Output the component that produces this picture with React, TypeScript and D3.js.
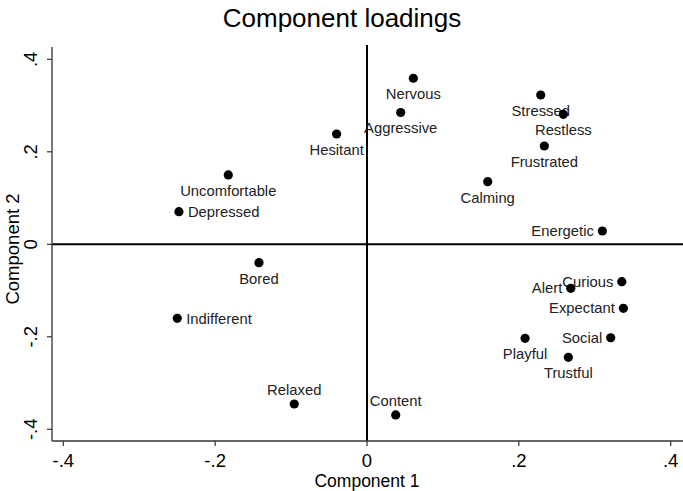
import React from "react";
import * as d3 from "d3";

const labels = ["Nervous","Aggressive","Hesitant","Uncomfortable","Depressed","Bored","Indifferent","Relaxed","Content","Stressed","Restless","Frustrated","Calming","Energetic","Curious","Alert","Expectant","Social","Playful","Trustful"];
const comp1 = [0.061,0.0444,-0.040,-0.1827,-0.2477,-0.1423,-0.2499,-0.0958,0.0378,0.2288,0.2586,0.2336,0.159,0.31,0.3356,0.2684,0.3377,0.321,0.2082,0.2652];
const comp2 = [0.359,0.285,0.2385,0.150,0.0705,-0.0398,-0.160,-0.3453,-0.369,0.3228,0.2811,0.2125,0.1354,0.0288,-0.0809,-0.0951,-0.1384,-0.202,-0.2032,-0.2443];
const labelClock = [6,6,6,6,3,6,3,12,12,6,6,6,6,9,9,9,9,9,6,6];
const xTicks = [-0.4,-0.2,0,0.2,0.4];
const yTicks = [-0.4,-0.2,0,0.2,0.4];

const W = 683, H = 491;
const FONT = "'Liberation Sans', Arial, Helvetica, sans-serif";

const fmt = (v: number) => {
  if (v === 0) return "0";
  const s = String(v);
  return s.replace("0.", ".");
};

export default function App() {
  const x = d3.scaleLinear().domain([-0.4, 0.4]).range([63.3, 670.7]);
  const y = d3.scaleLinear().domain([-0.4, 0.4]).range([429.3, 59.3]);
  const left = 52, bottom = 441, top = 47, right = W;
  const axisColor = "#333";

  return (
    <svg width={W} height={H} style={{ position: "absolute", left: 0, top: 0, background: "#fff" }} fontFamily={FONT}>
      <rect x={0} y={0} width={W} height={H} fill="#fff" />
      <text x={342} y={27} fontSize={26} textAnchor="middle" fill="#000">Component loadings</text>

      {/* zero reference lines */}
      <line x1={left} x2={right} y1={y(0)} y2={y(0)} stroke="#000" strokeWidth={2} />
      <line x1={x(0)} x2={x(0)} y1={top - 2} y2={bottom} stroke="#000" strokeWidth={2} />

      {/* axes */}
      <line x1={left} x2={left} y1={top} y2={bottom} stroke={axisColor} strokeWidth={1.3} />
      <line x1={left} x2={right} y1={bottom} y2={bottom} stroke={axisColor} strokeWidth={1.3} />

      {yTicks.map((t) => (
        <g key={"y" + t}>
          <line x1={left - 5} x2={left} y1={y(t)} y2={y(t)} stroke={axisColor} strokeWidth={1.2} />
          <text transform={`translate(37,${y(t)}) rotate(-90)`} fontSize={18.5} textAnchor="middle" fill="#000">{fmt(t)}</text>
        </g>
      ))}
      {xTicks.map((t) => (
        <g key={"x" + t}>
          <line x1={x(t)} x2={x(t)} y1={bottom} y2={bottom + 5} stroke={axisColor} strokeWidth={1.2} />
          <text x={x(t)} y={467} fontSize={18.5} textAnchor="middle" fill="#000">{fmt(t)}</text>
        </g>
      ))}

      <text x={x(0)} y={487} fontSize={17.5} textAnchor="middle" fill="#000">Component 1</text>
      <text transform={`translate(19,249) rotate(-90)`} fontSize={18.5} textAnchor="middle" fill="#000">Component 2</text>

      {labels.map((lab, i) => {
        const px = x(comp1[i]);
        const py = y(comp2[i]);
        const c = labelClock[i];
        let tx = px, ty = py + 21, anchor: "start" | "middle" | "end" = "middle";
        if (c === 12) { ty = py - 9; }
        else if (c === 3) { tx = px + 9; ty = py + 5.5; anchor = "start"; }
        else if (c === 9) { tx = px - 8.5; ty = py + 5; anchor = "end"; }
        return (
          <g key={lab}>
            <circle cx={px} cy={py} r={4.6} fill="#000" />
            <text x={tx} y={ty} fontSize={14.8} textAnchor={anchor} fill="#222">{lab}</text>
          </g>
        );
      })}
    </svg>
  );
}
